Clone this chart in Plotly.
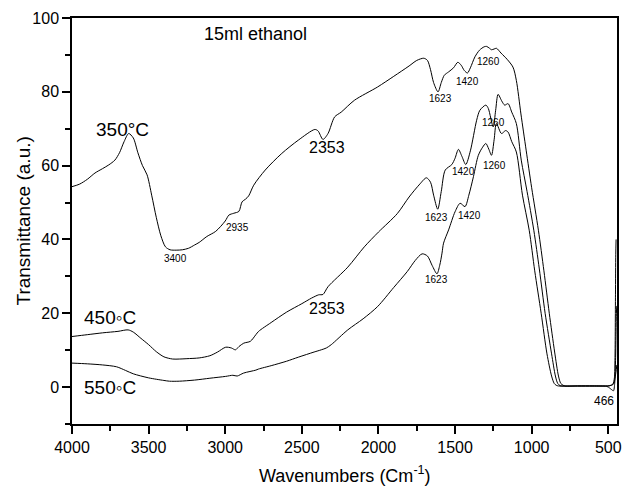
import plotly.graph_objects as go

# ---- data (wavenumber cm-1, transmittance a.u.) ----
x_350 = [4000, 3950, 3900, 3850, 3800, 3760, 3720, 3690, 3660, 3630, 3600, 3570, 3540, 3510,
         3480, 3450, 3420, 3390, 3360, 3320, 3280, 3240, 3200, 3170, 3120, 3062, 3000, 2976,
         2944, 2911, 2890, 2868, 2847, 2814, 2739, 2631, 2523, 2415, 2394, 2362, 2329, 2286,
         2243, 2157, 2006, 1900, 1800, 1750, 1704, 1680, 1660, 1640, 1611, 1590, 1570, 1542,
         1510, 1482, 1460, 1440, 1419, 1400, 1370, 1340, 1310, 1294, 1275, 1262, 1245, 1230,
         1200, 1160, 1122, 1100, 1070, 1036, 1000, 956, 920, 885, 850, 825, 810, 795, 780,
         700, 600, 520, 490, 470, 460, 456, 453, 451, 449]
y_350 = [54.3, 55.0, 56.3, 58.0, 59.2, 60.2, 61.5, 63.5, 66.5, 68.7, 67.5, 63.5, 60.0, 57.5,
         52.0, 46.0, 41.0, 38.0, 37.2, 37.1, 37.2, 37.6, 38.5, 39.2, 40.8, 42.2, 45.0, 46.6,
         47.1, 47.6, 50.2, 50.9, 51.8, 54.7, 58.8, 63.3, 66.9, 69.8, 69.4, 67.1, 68.7, 73.2,
         74.5, 77.7, 81.3, 84.2, 87.0, 88.5, 89.1, 88.5, 86.0, 82.5, 80.0, 82.5, 84.5, 85.4,
         86.5, 88.0, 87.2, 85.8, 85.1, 86.5, 89.5, 91.3, 92.2, 92.3, 91.8, 91.4, 91.6, 91.8,
         90.5, 88.8, 86.7, 83.1, 74.0, 64.2, 54.0, 42.5, 31.5, 20.0, 9.5, 3.0, 1.0, 0.5, 0.3,
         0.3, 0.3, 0.3, 0.4, 0.8, 2.5, 8.0, 25.0, 36.0, 40.0]

x_450 = [4000, 3900, 3800, 3700, 3634, 3600, 3550, 3500, 3450, 3400, 3343, 3300, 3250, 3170,
         3100, 3050, 2997, 2960, 2933, 2910, 2879, 2836, 2800, 2782, 2700, 2600, 2500, 2437,
         2390, 2362, 2329, 2200, 2092, 2000, 1877, 1800, 1730, 1687, 1660, 1640, 1613, 1590,
         1564, 1521, 1500, 1478, 1455, 1430, 1400, 1359, 1338, 1299, 1283, 1251, 1235, 1219,
         1195, 1176, 1154, 1130, 1100, 1068, 1030, 986, 950, 912, 870, 845, 830, 815, 800,
         700, 600, 510, 490, 478, 466, 458, 452, 447, 444]
y_450 = [13.7, 14.2, 14.7, 15.1, 15.5, 14.9, 13.2, 11.5, 9.6, 8.2, 7.6, 7.6, 7.7, 7.9,
         8.5, 9.5, 10.8, 10.6, 10.1, 11.0, 11.9, 12.4, 14.2, 15.1, 17.5, 20.3, 22.6, 24.1,
         25.0, 25.1, 27.2, 32.5, 38.0, 42.0, 47.0, 51.5, 55.0, 56.7, 55.5, 52.0, 48.2, 53.0,
         58.8, 60.3, 62.0, 64.4, 62.5, 60.3, 64.0, 72.3, 75.0, 76.4, 75.5, 70.5, 75.0, 79.3,
         77.5, 76.4, 76.8, 74.5, 71.4, 61.5, 53.0, 42.5, 32.0, 20.0, 9.0, 3.0, 1.0, 0.4, 0.3,
         0.3, 0.3, 0.2, -0.3, -0.7, -1.0, 1.0, 8.0, 20.0, 22.0]

x_550 = [4000, 3900, 3800, 3709, 3650, 3600, 3500, 3400, 3364, 3300, 3200, 3100, 2997, 2950,
         2922, 2880, 2800, 2782, 2700, 2600, 2523, 2420, 2373, 2340, 2308, 2200, 2100, 2006,
         1900, 1812, 1760, 1715, 1680, 1650, 1618, 1600, 1585, 1575, 1542, 1500, 1467, 1435,
         1410, 1380, 1348, 1320, 1299, 1280, 1262, 1245, 1230, 1197, 1170, 1154, 1130, 1100,
         1060, 1016, 980, 938, 900, 870, 853, 840, 825, 700, 600, 500, 480, 466, 458, 450, 444]
y_550 = [6.5, 6.3, 6.0, 5.5, 4.5, 3.6, 2.5, 1.8, 1.6, 1.6, 1.9, 2.4, 2.9, 3.2,
         3.0, 3.8, 4.6, 4.9, 5.8, 7.0, 8.1, 9.5, 10.1, 10.6, 11.5, 15.5, 18.5, 21.8,
         27.0, 31.3, 34.3, 36.1, 35.5, 33.0, 30.7, 33.0, 36.3, 39.0, 42.6, 47.5, 49.8, 48.9,
         52.0, 57.0, 62.8, 65.0, 66.0, 64.5, 62.8, 67.0, 71.4, 68.7, 69.5, 69.1, 66.5, 63.7,
         52.0, 42.5, 31.5, 20.0, 9.0, 3.0, 1.0, 0.5, 0.3, 0.3, 0.3, 0.3, 0.5, 0.8, 2.0, 4.0, 6.0]

# annotations: (text, x, y, font size)
labels = [
    ("15ml ethanol", 2803, 95.7, 18),
    ("350°C", 3673, 69.9, 19),
    ("450◦C", 3752, 18.9, 19),
    ("550◦C", 3752, -0.2, 19),
    ("3400", 3325, 34.9, 10),
    ("2935", 2918, 43.3, 10),
    ("2353", 2338, 64.8, 16),
    ("2353", 2338, 21.4, 16),
    ("1623", 1596, 78.2, 10),
    ("1420", 1419, 82.9, 10),
    ("1260", 1280, 88.1, 10),
    ("1623", 1622, 46.0, 10),
    ("1420", 1445, 58.5, 10),
    ("1260", 1251, 71.7, 10),
    ("1623", 1622, 29.1, 10),
    ("1420", 1406, 46.4, 10),
    ("1260", 1241, 60.1, 10),
    ("466", 525, -3.8, 12),
]

FONT = "Arial, Liberation Sans, sans-serif"

fig = go.Figure()
for xs, ys, name in [(x_350, y_350, "350°C"), (x_450, y_450, "450°C"), (x_550, y_550, "550°C")]:
    fig.add_trace(go.Scatter(x=xs, y=ys, mode="lines", name=name,
                             line=dict(color="black", width=1, shape="spline", smoothing=0.8)))

for text, lx, ly, fs in labels:
    fig.add_annotation(x=lx, y=ly, text=text, showarrow=False, xanchor="center", yanchor="middle",
                       font=dict(family=FONT, size=fs, color="black"))

# axis titles as annotations for exact placement
fig.add_annotation(xref="paper", yref="paper", x=0.5, y=-0.124, yanchor="middle", xanchor="center",
                   text="Wavenumbers (Cm<sup>-1</sup>)", showarrow=False,
                   font=dict(family=FONT, size=18, color="black"))
fig.add_annotation(xref="paper", yref="paper", x=-0.089, y=0.5, yanchor="middle", xanchor="center",
                   text="Transmittance (a.u.)", textangle=-90, showarrow=False,
                   font=dict(family=FONT, size=19, color="black"))

axis_common = dict(showline=True, linecolor="black", linewidth=1.5, mirror=True, showgrid=False,
                   zeroline=False, ticks="outside", ticklen=8, tickwidth=1.5, tickcolor="black",
                   ticklabeloverflow="allow",
                   tickfont=dict(family=FONT, size=16, color="black"))

fig.update_xaxes(range=[4000, 443], tick0=500, dtick=500,
                 minor=dict(ticks="outside", ticklen=5, tickwidth=1.5, tickcolor="black", dtick=250, tick0=500),
                 **axis_common)
fig.update_yaxes(range=[-10, 100], tick0=0, dtick=20,
                 minor=dict(ticks="outside", ticklen=5, tickwidth=1.5, tickcolor="black", dtick=10, tick0=0),
                 **axis_common)

fig.update_layout(width=624, height=488, margin=dict(l=72, r=2, t=18, b=64),
                  paper_bgcolor="white", plot_bgcolor="white", showlegend=False,
                  font=dict(family=FONT, color="black"))

fig.write_html("out.html")
